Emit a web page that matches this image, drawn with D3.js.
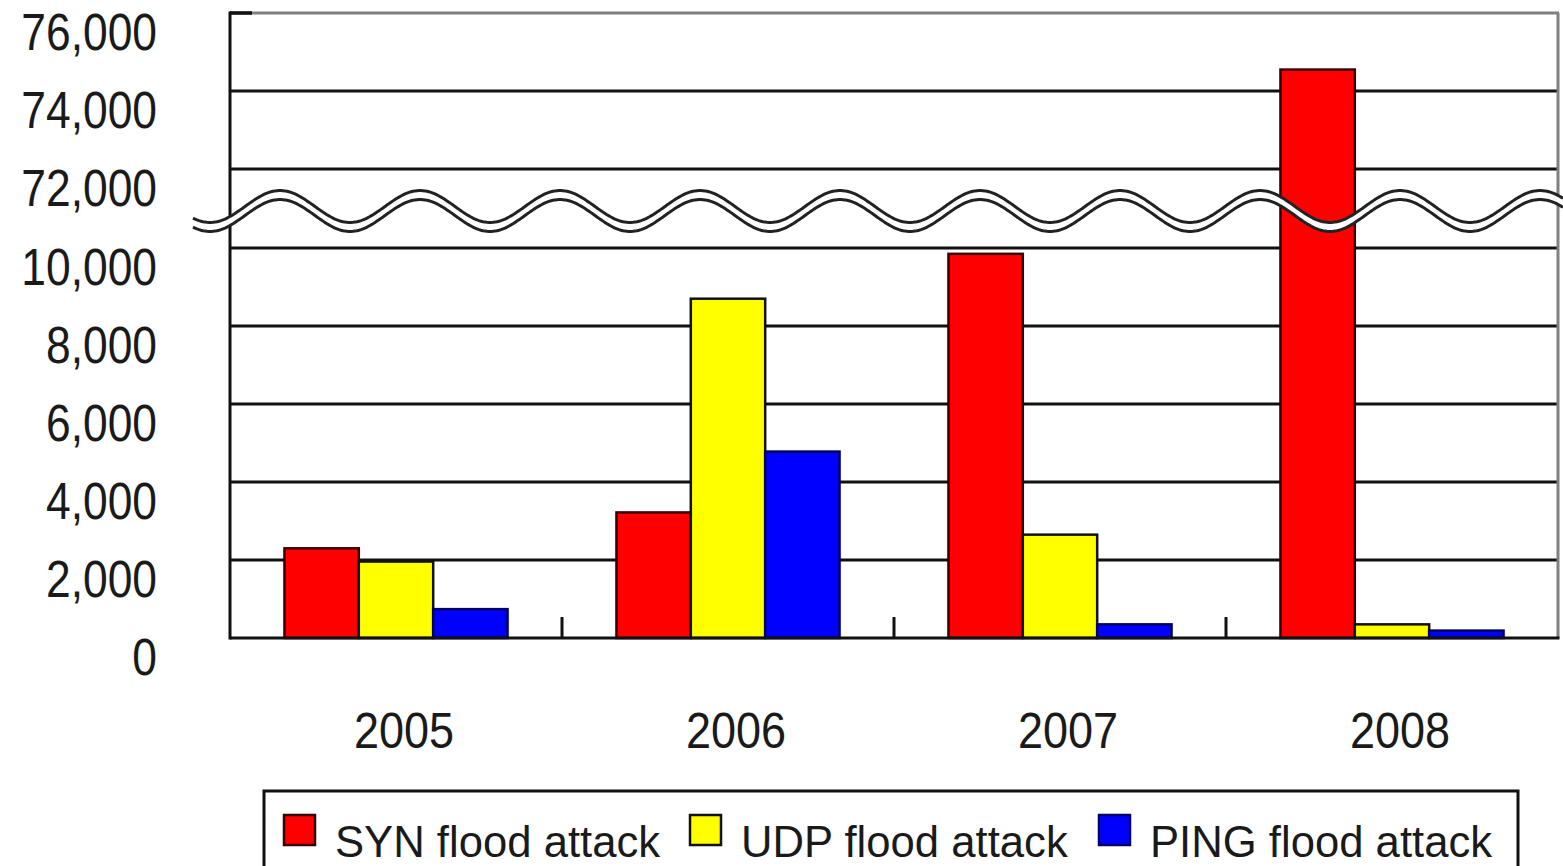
<!DOCTYPE html>
<html>
<head>
<meta charset="utf-8">
<script src="https://cdn.jsdelivr.net/npm/d3@7"></script>
<style>
  html, body { margin: 0; padding: 0; background: #fff; }
  svg { display: block; }
  text { font-family: "Liberation Sans", Arial, sans-serif; fill: #1a1a1a; }
</style>
</head>
<body>
<svg id="chart" width="1563" height="866"></svg>
<script>
// Flood attack counts per year, split by attack type
const years = ["2005", "2006", "2007", "2008"];
const seriesNames = ["SYN flood attack", "UDP flood attack", "PING flood attack"];
const synValues = [2300, 3220, 9850, 74550];
const udpValues = [1960, 8700, 2650, 350];
const pingValues = [740, 4780, 350, 190];
const yTickValues = [0, 2000, 4000, 6000, 8000, 10000, 72000, 74000, 76000];

const fills = ["#ff0000", "#ffff00", "#0000ff"];
const strokes = ["#3a0000", "#111111", "#000066"];

const svg = d3.select("#chart");
const plot = { left: 230, right: 1558, top: 13, bottom: 638 };

// Broken value axis: 0–10,000 below the break, 72,000–76,000 above it
const y = d3.scaleLinear()
  .domain([0, 10000, 72000, 76000])
  .range([plot.bottom, 248, 169, plot.top]);

const x0 = d3.scaleBand().domain(years).range([plot.left, plot.right]).padding(0);
const groupWidth = x0.bandwidth() * 0.672;
const x1 = d3.scaleBand().domain(seriesNames).range([0, groupWidth]).padding(0);

const rows = years.map((yr, i) => ({
  year: yr,
  values: [synValues[i], udpValues[i], pingValues[i]]
}));

// Horizontal gridlines
svg.append("g").selectAll("line")
  .data(yTickValues.filter(v => v !== 0 && v !== 76000))
  .join("line")
  .attr("x1", plot.left).attr("x2", plot.right)
  .attr("y1", d => y(d)).attr("y2", d => y(d))
  .attr("stroke", "#111").attr("stroke-width", 3);

// Frame: grey top and right edges
svg.append("line")
  .attr("x1", plot.left).attr("x2", plot.right + 1)
  .attr("y1", y(76000)).attr("y2", y(76000))
  .attr("stroke", "#808080").attr("stroke-width", 3);
svg.append("line")
  .attr("x1", plot.left).attr("x2", plot.left + 22)
  .attr("y1", y(76000)).attr("y2", y(76000))
  .attr("stroke", "#111").attr("stroke-width", 3.5);
svg.append("line")
  .attr("x1", plot.right).attr("x2", plot.right)
  .attr("y1", y(76000)).attr("y2", plot.bottom)
  .attr("stroke", "#808080").attr("stroke-width", 3);

// Bars
const groups = svg.append("g").selectAll("g")
  .data(rows)
  .join("g")
  .attr("transform", d => `translate(${x0(d.year) + (x0.bandwidth() - groupWidth) / 2},0)`);

groups.selectAll("rect")
  .data(d => d.values.map((v, k) => ({ name: seriesNames[k], value: v, k })))
  .join("rect")
  .attr("x", d => x1(d.name))
  .attr("width", x1.bandwidth())
  .attr("y", d => y(d.value))
  .attr("height", d => y(0) - y(d.value))
  .attr("fill", d => fills[d.k])
  .attr("stroke", d => strokes[d.k])
  .attr("stroke-width", 2.5);

// Axes lines
svg.append("line")
  .attr("x1", plot.left).attr("x2", plot.left)
  .attr("y1", plot.top - 1.5).attr("y2", plot.bottom + 1.5)
  .attr("stroke", "#111").attr("stroke-width", 3);
svg.append("line")
  .attr("x1", plot.left).attr("x2", plot.right + 1.5)
  .attr("y1", plot.bottom).attr("y2", plot.bottom)
  .attr("stroke", "#111").attr("stroke-width", 3);

// Category separators (inward ticks)
svg.append("g").selectAll("line")
  .data(years.slice(1))
  .join("line")
  .attr("x1", d => x0(d)).attr("x2", d => x0(d))
  .attr("y1", plot.bottom).attr("y2", plot.bottom - 21)
  .attr("stroke", "#111").attr("stroke-width", 3);

// Axis break: double wavy band across the plot
const waveCenter = 211, waveAmp = 16, wavePeriod = 140, wavePhase = 280, waveGap = 4.5;
const waveXs = d3.range(193, 1564, 2);
const waveY = xx => waveCenter - waveAmp * Math.cos(2 * Math.PI * (xx - wavePhase) / wavePeriod);
const upper = waveXs.map(xx => [xx, waveY(xx) - waveGap]);
const lower = waveXs.map(xx => [xx, waveY(xx) + waveGap]);
const line = d3.line();
svg.append("path")
  .attr("d", line(upper.concat(lower.slice().reverse())) + "Z")
  .attr("fill", "#fff");
svg.append("path").attr("d", line(upper))
  .attr("fill", "none").attr("stroke", "#222").attr("stroke-width", 3);
svg.append("path").attr("d", line(lower))
  .attr("fill", "none").attr("stroke", "#222").attr("stroke-width", 3);

// Y tick labels
const fmt = d3.format(",");
svg.append("g").selectAll("text")
  .data(yTickValues)
  .join("text")
  .attr("transform", d => `translate(157,${y(d) + 37}) scale(0.87,1)`)
  .attr("text-anchor", "end")
  .attr("font-size", 51)
  .text(d => fmt(d));

// Year labels
svg.append("g").selectAll("text")
  .data(years)
  .join("text")
  .attr("transform", d => `translate(${x0(d) + x0.bandwidth() / 2 + 8},748) scale(0.9,1)`)
  .attr("text-anchor", "middle")
  .attr("font-size", 50)
  .text(d => d);

// Legend
const legend = svg.append("g");
legend.append("rect")
  .attr("x", 264).attr("y", 791)
  .attr("width", 1254).attr("height", 120)
  .attr("fill", "#fff").attr("stroke", "#111").attr("stroke-width", 3);
const legendX = [284, 690, 1099];
const items = legend.selectAll("g.item")
  .data(seriesNames)
  .join("g").attr("class", "item")
  .attr("transform", (d, i) => `translate(${legendX[i]},0)`);
items.append("rect")
  .attr("x", 0).attr("y", 815)
  .attr("width", 31).attr("height", 30)
  .attr("fill", (d, i) => fills[i])
  .attr("stroke", (d, i) => strokes[i]).attr("stroke-width", 2.5);
items.append("text")
  .attr("transform", "translate(51,857) scale(0.97,1)")
  .attr("font-size", 45)
  .text(d => d);
</script>
</body>
</html>
